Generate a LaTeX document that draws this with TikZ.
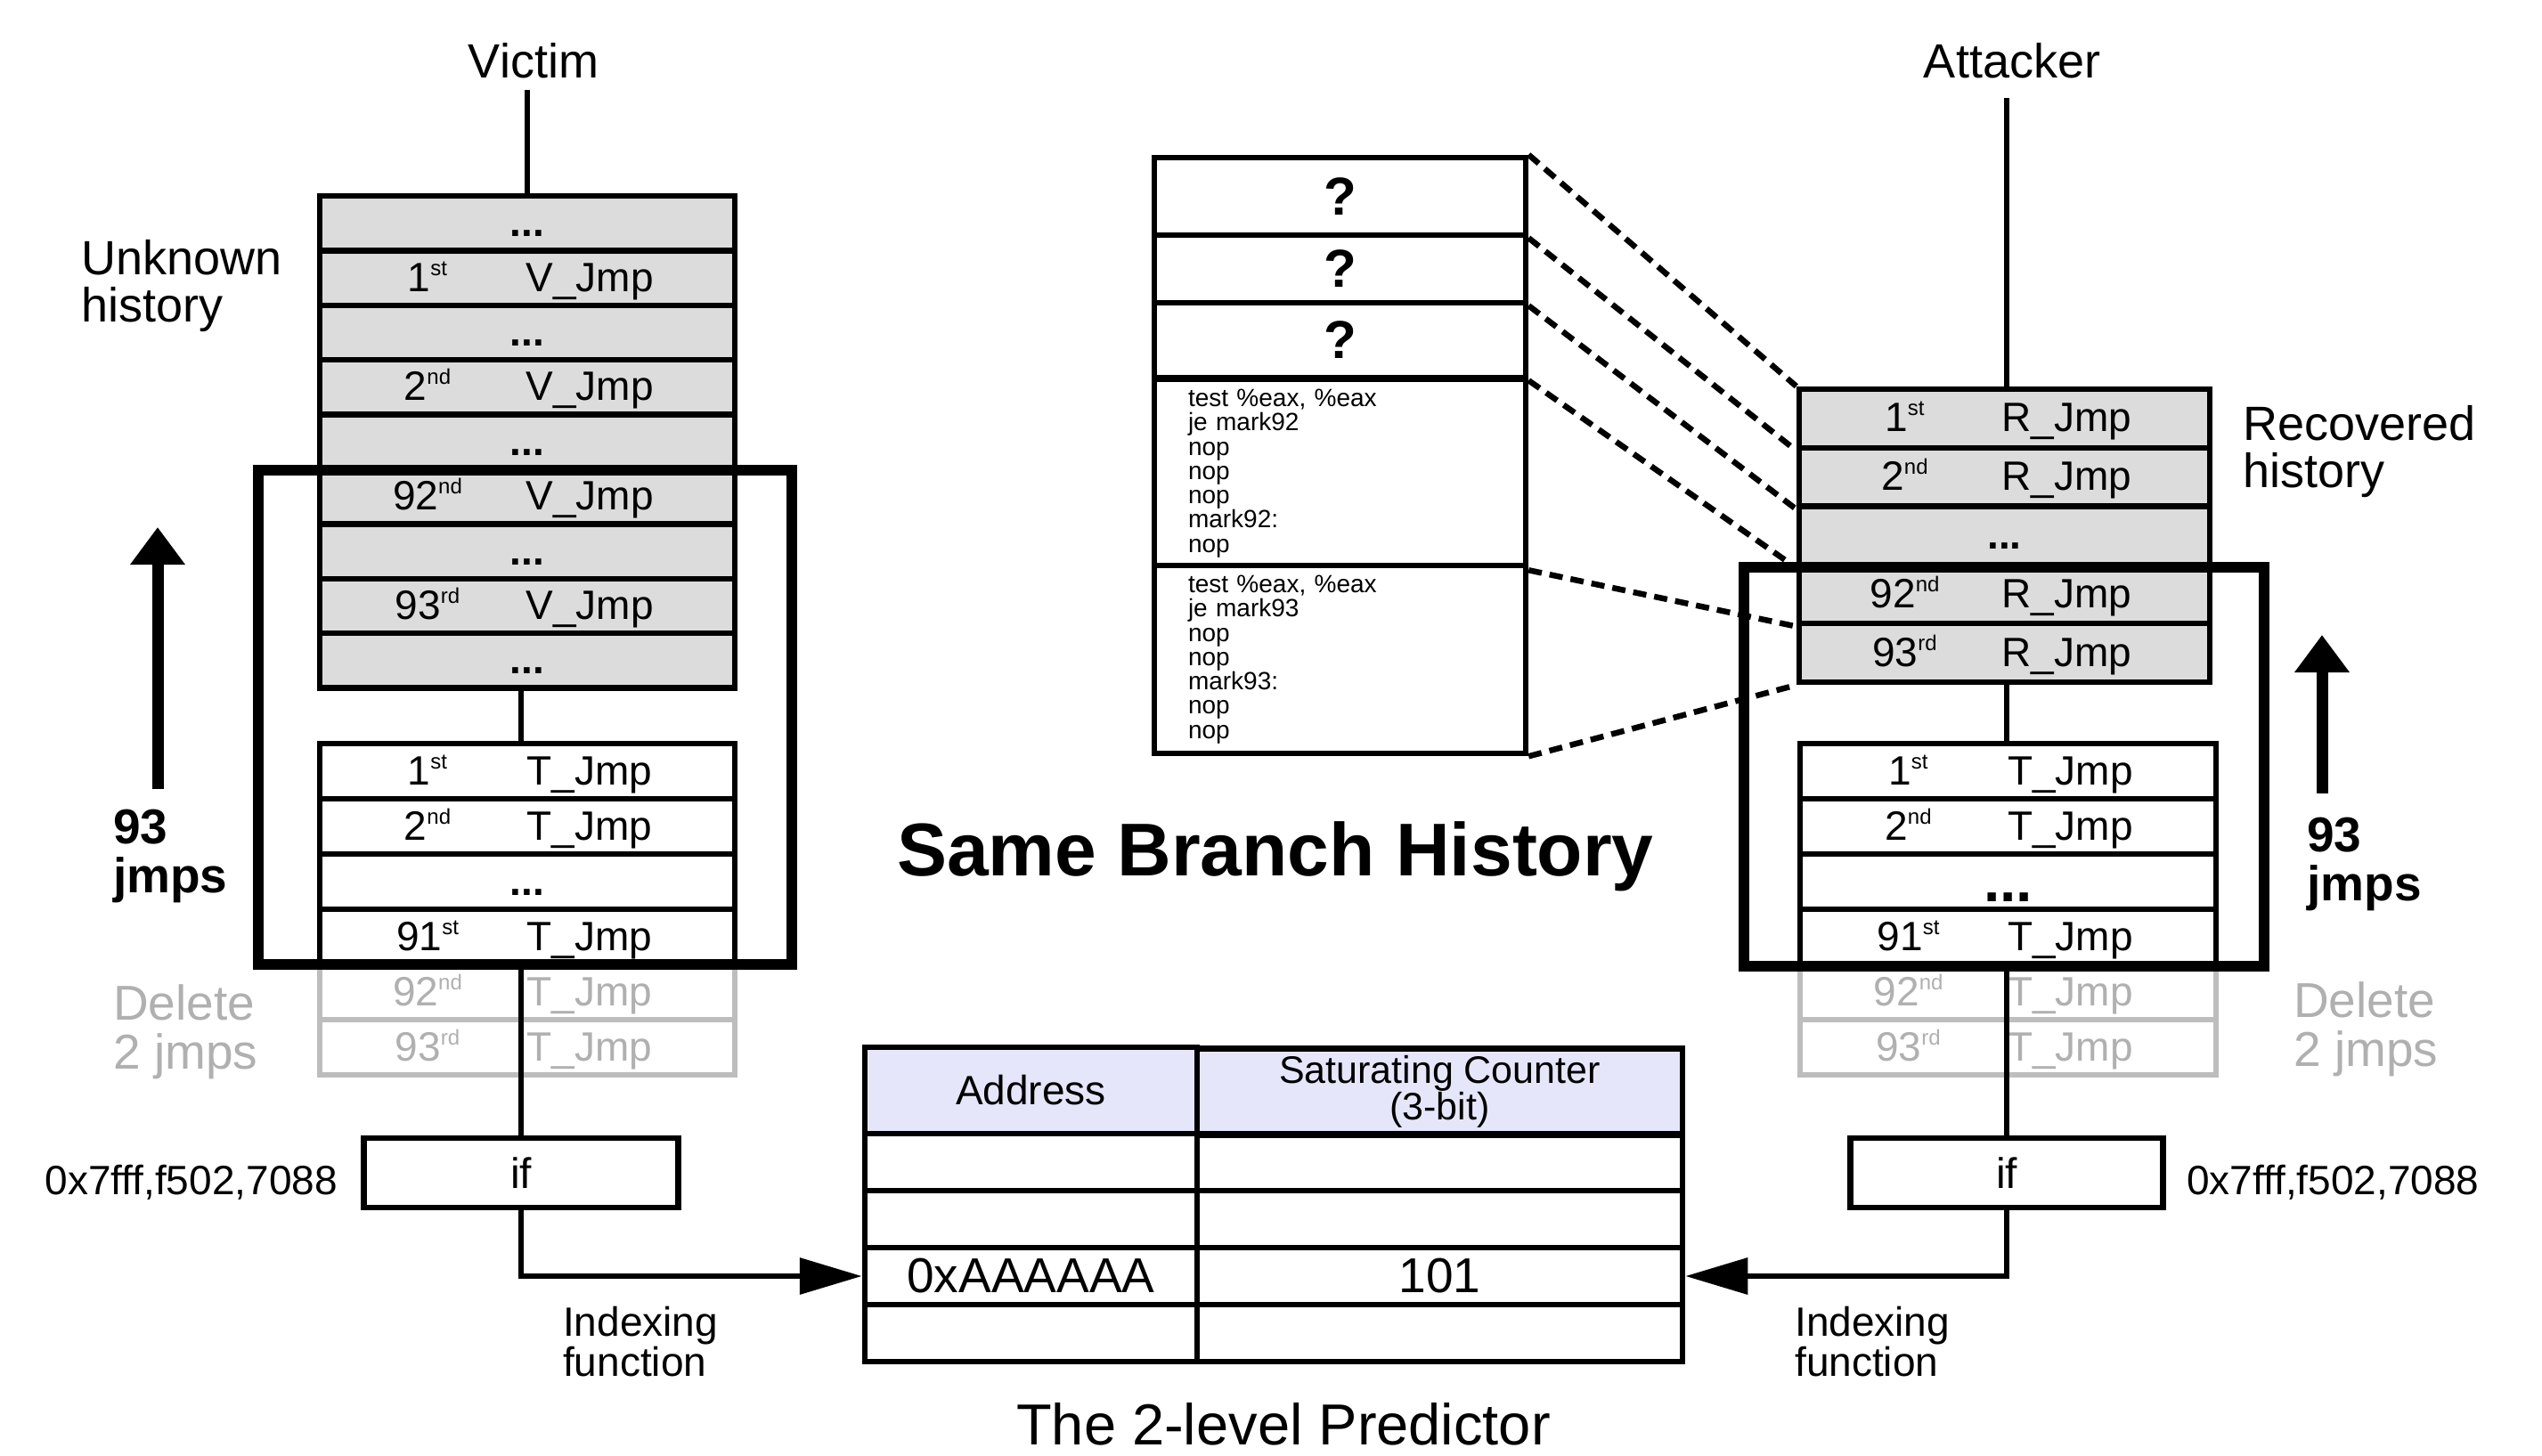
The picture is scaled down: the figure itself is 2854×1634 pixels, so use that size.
\documentclass[tikz,border=0pt]{standalone}
\usepackage{fontspec}
\setmainfont{Liberation Sans}
\usetikzlibrary{arrows.meta}
\newcommand\fsz[2]{\fontsize{#1pt}{#2pt}\selectfont}
\newcommand\ordsup[1]{\raisebox{18pt}{\fsz{24}{24}#1}}
\definecolor{rowgray}{HTML}{DCDCDC}
\definecolor{ghost}{HTML}{BDBDBD}
\definecolor{ghosttxt}{HTML}{B0B0B0}
\definecolor{hdr}{HTML}{E6E6FA}
\tikzset{
  cell/.style={draw=black, line width=6.5pt, inner sep=0pt, rectangle},
  vcell/.style={cell, fill=rowgray},
  wcell/.style={cell, fill=white},
  gcell/.style={cell, draw=ghost, fill=white},
  rowtext/.style={inner sep=0pt, font=\fsz{46}{46}, anchor=base},
  ghosttext/.style={rowtext, text=ghosttxt},
  conn/.style={line width=6.5pt},
  idxarrow/.style={conn, -{Triangle[length=70pt,width=40pt]}},
  uparrow/.style={line width=13pt, -{Triangle[length=42pt,width=59pt]}},
  frame/.style={draw=black, line width=12pt, inner sep=0pt, rectangle},
  dashconn/.style={line width=6.5pt, dash pattern=on 15pt off 9pt},
  lbl/.style={inner sep=0pt, font=\fsz{54}{53}, align=left, anchor=north west},
  single/.style={inner sep=0pt, font=\fsz{54}{54}}
}
% row node: name, cx, cy, width, height, style
\newcommand\mkrow[6]{\node[#6, minimum width=#4pt, minimum height=#5pt] (#1) at (#2,#3) {};}
% ordinal + word in a row: row, number, suffix, word, text style
\newcommand\ordword[5]{%
  \node[#5] (#1-o) at ([xshift=-112pt,yshift=-15pt]#1.center) {#2\ordsup{#3}};
  \node[#5] (#1-w) at ([xshift=70pt,yshift=-15pt]#1.center) {#4};}
\newcommand\dotsrow[2]{\node[#2] (#1-d) at ([yshift=-15pt]#1.center) {\textbf{...}};}

\begin{document}
\begin{tikzpicture}[x=1pt,y=-1pt]
\fill[white] (0,0) rectangle (2854,1634);
\useasboundingbox (0,0) rectangle (2854,1634);

\coordinate (lxL) at (585,0);
\coordinate (lxR) at (2253,0);

% ---------------- Victim side ----------------
\node[single, anchor=base] (victim) at (599,87) {Victim};
\mkrow{v0}{592}{250.7}{466}{61.4}{vcell}
\mkrow{v1}{592}{312.1}{466}{61.4}{vcell}
\mkrow{v2}{592}{373.5}{466}{61.4}{vcell}
\mkrow{v3}{592}{434.9}{466}{61.4}{vcell}
\mkrow{v4}{592}{496.3}{466}{61.4}{vcell}
\mkrow{v5}{592}{557.7}{466}{61.4}{vcell}
\mkrow{v6}{592}{619.1}{466}{61.4}{vcell}
\mkrow{v7}{592}{680.5}{466}{61.4}{vcell}
\mkrow{v8}{592}{741.9}{466}{61.4}{vcell}
\dotsrow{v0}{rowtext}
\ordword{v1}{1}{st}{V\_Jmp}{rowtext}
\dotsrow{v2}{rowtext}
\ordword{v3}{2}{nd}{V\_Jmp}{rowtext}
\dotsrow{v4}{rowtext}
\ordword{v5}{92}{nd}{V\_Jmp}{rowtext}
\dotsrow{v6}{rowtext}
\ordword{v7}{93}{rd}{V\_Jmp}{rowtext}
\dotsrow{v8}{rowtext}

\mkrow{tl4}{592}{1114}{466}{62}{gcell}
\mkrow{tl5}{592}{1176}{466}{62}{gcell}
\mkrow{tl0}{592}{866}{466}{62}{wcell}
\mkrow{tl1}{592}{928}{466}{62}{wcell}
\mkrow{tl2}{592}{990}{466}{62}{wcell}
\mkrow{tl3}{592}{1052}{466}{62}{wcell}
\ordword{tl0}{1}{st}{T\_Jmp}{rowtext}
\ordword{tl1}{2}{nd}{T\_Jmp}{rowtext}
\dotsrow{tl2}{rowtext}
\ordword{tl3}{91}{st}{T\_Jmp}{rowtext}
\ordword{tl4}{92}{nd}{T\_Jmp}{ghosttext}
\ordword{tl5}{93}{rd}{T\_Jmp}{ghosttext}

\node[frame, minimum width=599pt, minimum height=555pt] (frameL) at (589.5,805.5) {};

\node[cell, fill=white, minimum width=353pt, minimum height=78pt, font=\fsz{48}{48}] (ifL) at (585,1317) {if};

\draw[conn] (v0.north) -- ([yshift=-13pt]v0.north |- victim.south);
\draw[conn] (v8.south -| lxL) -- (tl0.north -| lxL);
\draw[conn] (tl3.south -| lxL) -- (ifL.north -| lxL);

\node[lbl] (unk) at (91,269) {Unknown\\history};
\node[lbl, font=\bfseries\fsz{55}{55}] (n93L) at (127,909) {93\\jmps};
\node[lbl, text=ghosttxt, font=\fsz{55}{55}] (delL) at (127,1105) {Delete\\2 jmps};
\node[lbl, font=\fsz{46}{45}] (idxL) at (632,1467) {Indexing\\function};
\node[inner sep=0pt, anchor=base east, font=\fsz{46}{46}] (addrL) at (379,1341) {0x7fff,f502,7088};
\coordinate (aL0) at (177,886);
\coordinate (aL1) at (177,592);
\draw[uparrow] (aL0) -- (aL1);

% ---------------- middle: code stack ----------------
\node[wcell, minimum width=417pt, minimum height=87pt, font=\bfseries\fsz{60}{60}] (q0) at (1504.5,220.5) {?};
\node[wcell, minimum width=417pt, minimum height=76pt, font=\bfseries\fsz{60}{60}] (q1) at (1504.5,302) {?};
\node[wcell, minimum width=417pt, minimum height=84pt, font=\bfseries\fsz{60}{60}] (q2) at (1504.5,382) {?};
\node[wcell, minimum height=211pt, text width=341pt, inner xsep=38pt, align=left, font=\fsz{28}{27.3}] (c3) at (1504.5,531.5)
  {test \%eax, \%eax\\je mark92\\nop\\nop\\nop\\mark92:\\nop};
\node[wcell, minimum height=211pt, text width=341pt, inner xsep=38pt, align=left, font=\fsz{28}{27.3}] (c4) at (1504.5,740.5)
  {test \%eax, \%eax\\je mark93\\nop\\nop\\mark93:\\nop\\nop};

\node[inner sep=0pt, anchor=base, font=\bfseries\fsz{84}{84}] (same) at (1432,983) {Same Branch History};

% ---------------- Attacker side ----------------
\node[single, anchor=base] (attacker) at (2259,87) {Attacker};
\mkrow{r0}{2250.5}{469.9}{461}{65.8}{vcell}
\mkrow{r1}{2250.5}{535.7}{461}{65.8}{vcell}
\mkrow{r2}{2250.5}{601.5}{461}{65.8}{vcell}
\mkrow{r3}{2250.5}{667.3}{461}{65.8}{vcell}
\mkrow{r4}{2250.5}{733.1}{461}{65.8}{vcell}
\ordword{r0}{1}{st}{R\_Jmp}{rowtext}
\ordword{r1}{2}{nd}{R\_Jmp}{rowtext}
\dotsrow{r2}{rowtext}
\ordword{r3}{92}{nd}{R\_Jmp}{rowtext}
\ordword{r4}{93}{rd}{R\_Jmp}{rowtext}

\mkrow{tr4}{2254.5}{1114}{467}{62}{gcell}
\mkrow{tr5}{2254.5}{1176}{467}{62}{gcell}
\mkrow{tr0}{2254.5}{866}{467}{62}{wcell}
\mkrow{tr1}{2254.5}{928}{467}{62}{wcell}
\mkrow{tr2}{2254.5}{990}{467}{62}{wcell}
\mkrow{tr3}{2254.5}{1052}{467}{62}{wcell}
\ordword{tr0}{1}{st}{T\_Jmp}{rowtext}
\ordword{tr1}{2}{nd}{T\_Jmp}{rowtext}
\node[inner sep=0pt, anchor=base, font=\bfseries\fsz{66}{66}] (tr2-d) at ([yshift=-22pt]tr2.center) {...};
\ordword{tr3}{91}{st}{T\_Jmp}{rowtext}
\ordword{tr4}{92}{nd}{T\_Jmp}{ghosttext}
\ordword{tr5}{93}{rd}{T\_Jmp}{ghosttext}

% dashed correspondence lines
\draw[dashconn] (q0.north east) -- (r0.north west);
\draw[dashconn] (q0.south east) -- (r0.south west);
\draw[dashconn] (q1.south east) -- (r1.south west);
\draw[dashconn] (q2.south east) -- (r2.south west);
\draw[dashconn] (c3.south east) -- (r3.south west);
\draw[dashconn] (c4.south east) -- (r4.south west);

\node[frame, minimum width=584pt, minimum height=448pt] (frameR) at (2250,861) {};

\node[cell, fill=white, minimum width=351pt, minimum height=78pt, font=\fsz{48}{48}] (ifR) at (2253,1317) {if};

\draw[conn] (r0.north -| lxR) -- ([yshift=-22pt]lxR |- attacker.south);
\draw[conn] (r4.south -| lxR) -- (tr0.north -| lxR);
\draw[conn] (tr3.south -| lxR) -- (ifR.north -| lxR);

\node[lbl] (rec) at (2518,455) {Recovered\\history};
\node[lbl, font=\bfseries\fsz{55}{55}] (n93R) at (2590,918) {93\\jmps};
\node[lbl, text=ghosttxt, font=\fsz{55}{55}] (delR) at (2575,1102) {Delete\\2 jmps};
\node[lbl, font=\fsz{46}{45}] (idxR) at (2015,1467) {Indexing\\function};
\node[inner sep=0pt, anchor=base west, font=\fsz{46}{46}] (addrR) at (2455,1341) {0x7fff,f502,7088};
\coordinate (aR0) at (2607,891);
\coordinate (aR1) at (2607,713);
\draw[uparrow] (aR0) -- (aR1);

% ---------------- predictor table ----------------
\node[cell, fill=hdr, minimum width=373pt, minimum height=97pt, font=\fsz{46}{46}] (ha) at (1157.5,1224.5) {Address};
\node[cell, fill=hdr, minimum width=545pt, minimum height=97pt, font=\fsz{43}{40}, align=center] (hc) at (1616.5,1226) {Saturating Counter\\(3-bit)};
\node[cell, minimum width=373pt, minimum height=64pt] (ta1) at (1157.5,1305) {};
\node[cell, minimum width=545pt, minimum height=64pt] (tc1) at (1616.5,1305) {};
\node[cell, minimum width=373pt, minimum height=64pt] (ta2) at (1157.5,1369) {};
\node[cell, minimum width=545pt, minimum height=64pt] (tc2) at (1616.5,1369) {};
\node[cell, minimum width=373pt, minimum height=64pt, font=\fsz{55}{55}] (ta3) at (1157.5,1433) {0xAAAAAA};
\node[cell, minimum width=545pt, minimum height=64pt, font=\fsz{55}{55}] (tc3) at (1616.5,1433) {101};
\node[cell, minimum width=373pt, minimum height=64pt] (ta4) at (1157.5,1497) {};
\node[cell, minimum width=545pt, minimum height=64pt] (tc4) at (1616.5,1497) {};

\draw[idxarrow] (ifL.south) |- (ta3.west);
\draw[idxarrow] (ifR.south) |- (tc3.east);

\node[inner sep=0pt, anchor=base, font=\fsz{65}{65}] (title) at (1441,1622) {The 2-level Predictor};
\end{tikzpicture}
\end{document}
